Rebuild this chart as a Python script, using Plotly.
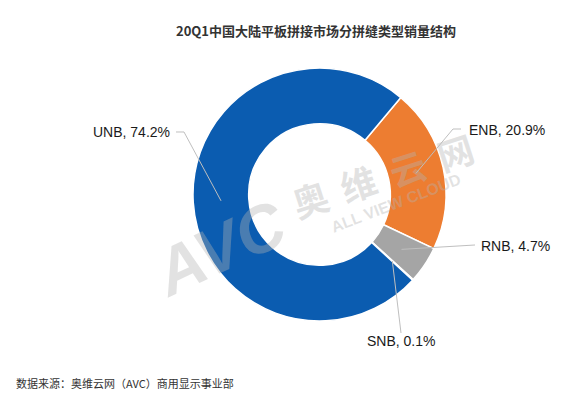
import math
import plotly.graph_objects as go

# ---- data ----
labels = ["ENB", "RNB", "SNB", "UNB"]
values = [20.9, 4.7, 0.1, 74.2]
colors = ["#ED7D31", "#A5A5A5", "#7F7F7F", "#0B5CB0"]
title_text = "20Q1中国大陆平板拼接市场分拼缝类型销量结构"
source_text = "数据来源：奥维云网（AVC）商用显示事业部"

# ---- geometry (pixels) ----
W, H = 577, 394
cx, cy, R = 311.5, 186.5, 126.5
hole = 0.56
rotation = 40

def px2paper(x, y):
    return x / W, 1 - y / H

fig = go.Figure()
fig.add_trace(go.Pie(
    labels=labels, values=values, sort=False, direction="clockwise",
    rotation=rotation, hole=hole, textinfo="none", hoverinfo="label+percent",
    marker=dict(colors=colors, line=dict(color="white", width=1.5)),
    domain=dict(x=[(cx - R) / W, (cx + R) / W],
                y=[1 - (cy + R) / H, 1 - (cy - R) / H]),
    showlegend=False,
))

# mid-angle of each slice (clockwise from 12 o'clock), from the data
total = sum(values)
mids = []
acc = rotation
for v in values:
    span = v / total * 360
    mids.append(acc + span / 2)
    acc += span
rmid = R * (1 + hole) / 2

def ring_point(i):
    a = math.radians(mids[i])
    return cx + rmid * math.sin(a), cy - rmid * math.cos(a)

# label placement (pixels): text centre, leader start, optional elbow
label_pos = {
    "ENB": ((499, 122), (453, 121), (445, 121)),
    "RNB": ((507, 238), (467, 237), None),
    "SNB": ((393, 333), (393, 325), None),
    "UNB": ((123, 124), (168, 124), (176, 124)),
}

shapes = []
annotations = []
for i, lab in enumerate(labels):
    (tx, ty), start, elbow = label_pos[lab]
    pts = [start] + ([elbow] if elbow else []) + [ring_point(i)]
    path = ""
    for k, (x, y) in enumerate(pts):
        X, Y = px2paper(x, y)
        path += ("M" if k == 0 else " L") + f" {X:.5f} {Y:.5f}"
    shapes.append(dict(type="path", path=path, xref="paper", yref="paper",
                       line=dict(color="#BFBFBF", width=1)))
    X, Y = px2paper(tx, ty)
    annotations.append(dict(
        x=X, y=Y, xref="paper", yref="paper", showarrow=False,
        text=f"{lab}, {values[i]}%", xanchor="center", yanchor="middle",
        font=dict(family="Arial, Liberation Sans, sans-serif", size=14, color="#1a1a1a")))

# watermark
wm_color = "rgba(180,180,180,0.38)"
wm_items = [
    ("<b><i>AVC</i></b>", (212, 240), 66, "Arial, Liberation Sans, sans-serif", -25),
    ("<b>ALL VIEW CLOUD</b>", (387, 195), 16, "Arial, Liberation Sans, sans-serif", -21),
]
for k, ch in enumerate("奥维云网"):
    x0, y0, x1, y1 = 302, 190, 447, 143
    t = k / 3
    wm_items.append((f"<b>{ch}</b>", (x0 + (x1 - x0) * t, y0 + (y1 - y0) * t),
                     36, "Noto Sans CJK SC", -18))
for txt, (x, y), size, fam, ang in wm_items:
    X, Y = px2paper(x, y)
    annotations.append(dict(x=X, y=Y, xref="paper", yref="paper", showarrow=False,
                            text=txt, textangle=ang, xanchor="center", yanchor="middle",
                            font=dict(family=fam, size=size, color=wm_color)))

# title and source
X, Y = px2paper(308, 22)
annotations.append(dict(x=X, y=Y, xref="paper", yref="paper", showarrow=False,
                        text=f"<b>{title_text}</b>", xanchor="center", yanchor="middle",
                        font=dict(family="Noto Sans CJK SC", size=13, color="#333333")))
X, Y = px2paper(6, 375)
annotations.append(dict(x=X, y=Y, xref="paper", yref="paper", showarrow=False,
                        text=source_text, xanchor="left", yanchor="middle",
                        font=dict(family="Noto Sans CJK SC", size=11, color="#333333")))

fig.update_layout(
    width=W, height=H, margin=dict(l=0, r=0, t=0, b=0),
    paper_bgcolor="white", plot_bgcolor="white",
    shapes=shapes, annotations=annotations,
)
fig.write_html("out.html")
